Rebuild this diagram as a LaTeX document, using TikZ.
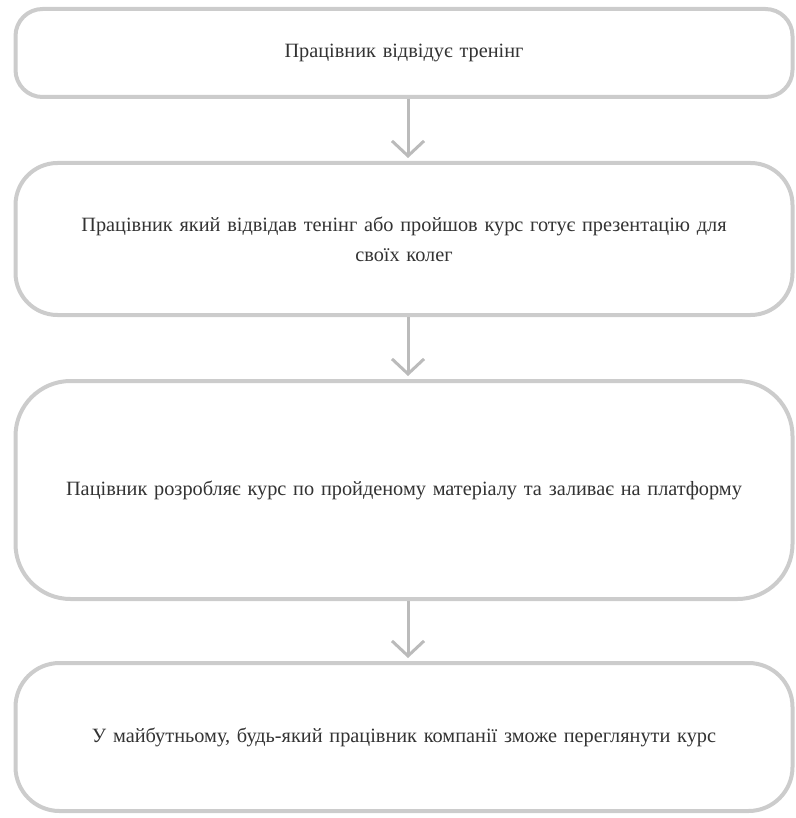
\documentclass[tikz,border=0pt]{standalone}
\usepackage{fontspec}
\setmainfont{Liberation Serif}
\usetikzlibrary{arrows.meta}
\definecolor{boxline}{HTML}{CCCCCC}
\definecolor{arrowline}{HTML}{BBBBBB}
\definecolor{txt}{HTML}{333333}
\tikzset{
  flowbox/.style={draw=boxline, line width=4pt, fill=white, minimum width=777pt,
    text width=720pt, align=center, inner sep=0pt, text=txt,
    font=\fontsize{20.3pt}{30pt}\selectfont},
  flowarrow/.style={draw=arrowline, line width=3pt,
    -{Straight Barb[length=15pt,width=32pt,line width=3pt]}, shorten >=3pt}
}
\begin{document}
\begin{tikzpicture}[x=1pt,y=-1pt]
\useasboundingbox (0,0) rectangle (795,818);
\node[flowbox, minimum height=88pt, rounded corners=27pt] (b1) at (404,53) {Працівник відвідує тренінг};
\node[flowbox, minimum height=152pt, rounded corners=42pt] (b2) at (404,239) {Працівник який відвідав тенінг або пройшов курс готує презентацію для\\своїх колег};
\node[flowbox, minimum height=218pt, rounded corners=55pt] (b3) at (404,490) {Пацівник розробляє курс по пройденому матеріалу та заливає на платформу};
\node[flowbox, minimum height=148pt, rounded corners=44pt] (b4) at (404,737) {У майбутньому, будь-який працівник компанії зможе переглянути курс};
\draw[flowarrow] ([xshift=4pt]b1.south) -- ([xshift=4pt]b2.north);
\draw[flowarrow] ([xshift=4pt]b2.south) -- ([xshift=4pt]b3.north);
\draw[flowarrow] ([xshift=4pt]b3.south) -- ([xshift=4pt]b4.north);
\end{tikzpicture}
\end{document}
